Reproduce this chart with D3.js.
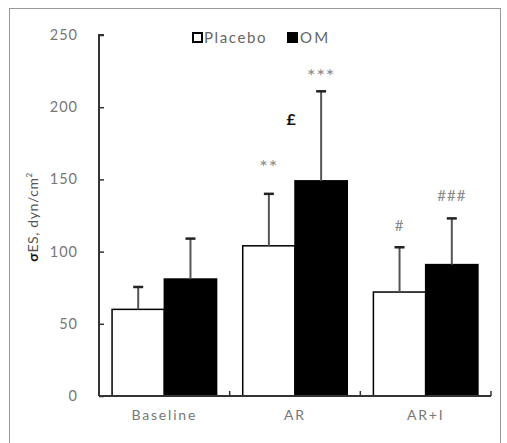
<!DOCTYPE html>
<html>
<head>
<meta charset="utf-8">
<script src="https://cdn.jsdelivr.net/npm/d3@7/dist/d3.min.js"></script>
<style>
  html, body { margin: 0; padding: 0; background: #fff; }
  svg text { font-family: Lato, "Open Sans", sans-serif; }
</style>
</head>
<body>
<svg id="chart" width="507" height="443"></svg>
<script>
// Groups and series
const categories = ["Baseline", "AR", "AR+I"];
const seriesNames = ["Placebo", "OM"];
const placeboMean = [60, 104, 72];
const placeboErr  = [15.5, 36, 31];
const omMean      = [81, 149, 91];
const omErr       = [28, 62, 32];
const placeboMarks = ["", "**", "#"];
const omMarks      = ["", "***", "###"];
const omExtraMarks = ["", "£", ""];
const yTicks = [0, 50, 100, 150, 200, 250];

(function () {
const svg = d3.select("#chart");
const plotL = 99, plotR = 491, plotT = 35, plotB = 396;

// outer frame
svg.append("rect")
  .attr("x", 9.5).attr("y", 8.5)
  .attr("width", 491).attr("height", 450)
  .attr("fill", "none").attr("stroke", "#999").attr("stroke-width", 1);

const y = d3.scaleLinear().domain([0, 250]).range([plotB, plotT]);
const x0 = d3.scaleBand().domain(categories).range([plotL, plotR]).paddingInner(0.2).paddingOuter(0.1);
const x1 = d3.scaleBand().domain(seriesNames).range([0, x0.bandwidth()]);

const data = categories.map((c, i) => ({
  cat: c,
  vals: [
    { s: "Placebo", v: placeboMean[i], e: placeboErr[i], fill: "#fff" },
    { s: "OM", v: omMean[i], e: omErr[i], fill: "#000" }
  ]
}));

// bars with upper error bars
const g = svg.append("g");
data.forEach(d => {
  d.vals.forEach(b => {
    const bx = x0(d.cat) + x1(b.s);
    g.append("rect")
      .attr("x", bx).attr("y", y(b.v))
      .attr("width", x1.bandwidth()).attr("height", y(0) - y(b.v))
      .attr("fill", b.fill).attr("stroke", "#000").attr("stroke-width", 1.5);
    const cx = bx + x1.bandwidth() / 2;
    g.append("line")
      .attr("x1", cx).attr("x2", cx)
      .attr("y1", y(b.v)).attr("y2", y(b.v + b.e))
      .attr("stroke", "#555").attr("stroke-width", 2);
    g.append("line")
      .attr("x1", cx - 5).attr("x2", cx + 5)
      .attr("y1", y(b.v + b.e)).attr("y2", y(b.v + b.e))
      .attr("stroke", "#222").attr("stroke-width", 2.5);
  });
});

// y axis, ticks pointing inward
const yAxis = d3.axisRight(y).tickValues(yTicks).tickSize(5).tickFormat("");
const ya = svg.append("g").attr("transform", `translate(${plotL},0)`).call(yAxis);
ya.select(".domain").attr("stroke", "#333").attr("stroke-width", 2).attr("d", `M5,${plotT}H0V${plotB}`);
ya.selectAll(".tick line").attr("stroke", "#333").attr("stroke-width", 1.5);

svg.append("g").selectAll("text").data(yTicks).join("text")
  .attr("x", 78).attr("y", d => y(d)).attr("dy", "0.35em")
  .attr("text-anchor", "end")
  .attr("font-size", 14.5).attr("fill", "#777").attr("letter-spacing", "1px")
  .text(d => d);

// x axis with category boundary ticks pointing up
svg.append("line").attr("x1", plotL).attr("x2", plotR)
  .attr("y1", plotB).attr("y2", plotB)
  .attr("stroke", "#333").attr("stroke-width", 2);
const bounds = [x0(categories[1]) - x0.step() * x0.paddingInner() / 2,
                x0(categories[2]) - x0.step() * x0.paddingInner() / 2, plotR];
svg.append("g").selectAll("line").data(bounds).join("line")
  .attr("x1", d => d).attr("x2", d => d)
  .attr("y1", plotB).attr("y2", plotB - 5)
  .attr("stroke", "#333").attr("stroke-width", 1.5);

svg.append("g").selectAll("text").data(categories).join("text")
  .attr("x", d => x0(d) + x0.bandwidth() / 2).attr("y", 420)
  .attr("text-anchor", "middle")
  .attr("font-size", 14).attr("fill", "#777").attr("letter-spacing", "1.8px")
  .text(d => d);

// y axis title
svg.append("text")
  .attr("transform", "translate(38,217) rotate(-90)")
  .attr("text-anchor", "middle")
  .attr("font-size", 14).attr("fill", "#555").attr("letter-spacing", "0.6px")
  .html('<tspan font-weight="bold" fill="#111">σ</tspan>ES, dyn/cm<tspan font-size="8" dy="-6">2</tspan>');

// significance marks above the error bars
const isStar = s => s.indexOf("*") >= 0;
data.forEach((d, i) => {
  const pcx = x0(d.cat) + x1("Placebo") + x1.bandwidth() / 2;
  const ocx = x0(d.cat) + x1("OM") + x1.bandwidth() / 2;
  const pt = y(placeboMean[i] + placeboErr[i]);
  const ot = y(omMean[i] + omErr[i]);
  svg.append("text").attr("x", pcx).attr("y", isStar(placeboMarks[i]) ? pt - 20 : pt - 16)
    .attr("text-anchor", "middle").attr("font-size", isStar(placeboMarks[i]) ? 20 : 15)
    .attr("fill", "#888").attr("letter-spacing", "1px")
    .text(placeboMarks[i]);
  svg.append("text").attr("x", ocx).attr("y", isStar(omMarks[i]) ? ot - 8 : ot - 17)
    .attr("text-anchor", "middle").attr("font-size", isStar(omMarks[i]) ? 20 : 15)
    .attr("fill", "#888").attr("letter-spacing", "1px")
    .text(omMarks[i]);
  if (omExtraMarks[i]) {
    svg.append("text").attr("x", ocx - 30).attr("y", y(omMean[i] + omErr[i] * 0.62))
      .attr("text-anchor", "middle").attr("font-size", 16).attr("font-weight", "bold").attr("fill", "#111")
      .text(omExtraMarks[i]);
  }
});

// legend
const legend = svg.append("g").attr("font-size", 15);
legend.append("rect").attr("x", 193).attr("y", 33).attr("width", 9).attr("height", 9)
  .attr("fill", "#fff").attr("stroke", "#000").attr("stroke-width", 2);
legend.append("text").attr("x", 204).attr("y", 43).attr("fill", "#666").attr("letter-spacing", "1.6px").text(seriesNames[0]);
legend.append("rect").attr("x", 288).attr("y", 33).attr("width", 9).attr("height", 9)
  .attr("fill", "#000").attr("stroke", "#000").attr("stroke-width", 2);
legend.append("text").attr("x", 300).attr("y", 43).attr("fill", "#666").attr("letter-spacing", "2.2px").text(seriesNames[1]);
})();
</script>
</body>
</html>
